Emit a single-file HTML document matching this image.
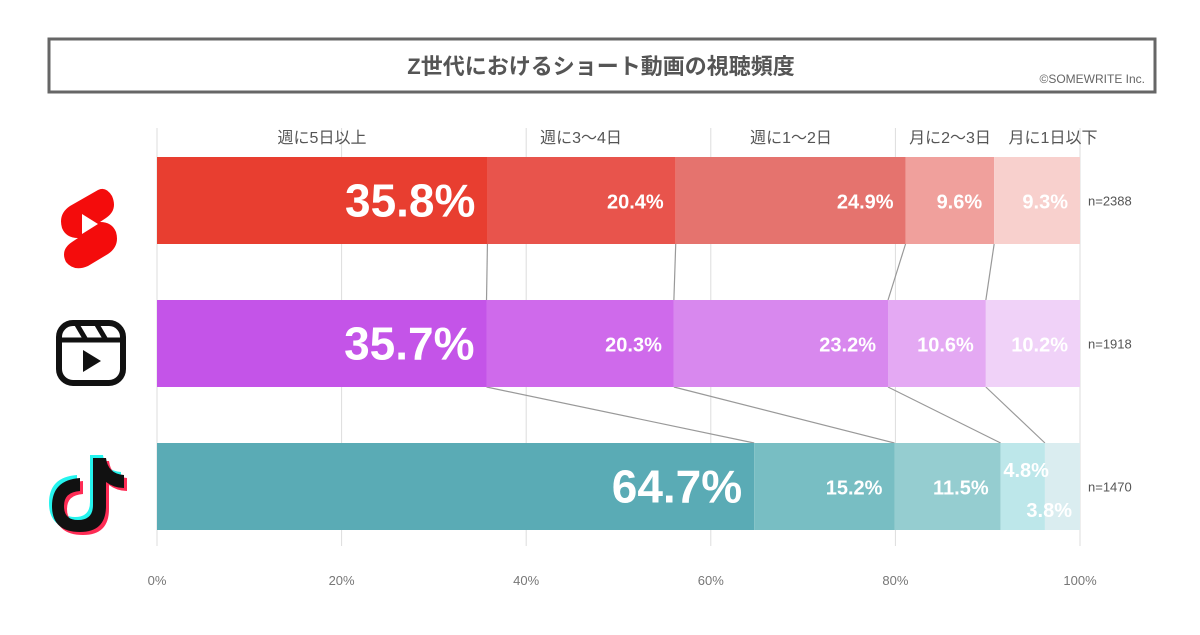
<!DOCTYPE html>
<html><head><meta charset="utf-8">
<style>
body{margin:0;background:#fff;width:1200px;height:630px;overflow:hidden;font-family:"Liberation Sans","Noto Sans CJK JP",sans-serif;}
svg text{font-family:"Liberation Sans","Noto Sans CJK JP",sans-serif;}
</style></head>
<body>
<svg id="chart" width="1200" height="630" xmlns="http://www.w3.org/2000/svg">
<rect x="49" y="39" width="1106" height="53" fill="#fff" stroke="#666" stroke-width="3"/>
<text x="601" y="74" text-anchor="middle" font-size="22" font-weight="bold" fill="#555">Z世代におけるショート動画の視聴頻度</text>
<text x="1145" y="83" text-anchor="end" font-size="12" fill="#666">©SOMEWRITE Inc.</text>
<g id="grid"></g><g id="conn"></g><g id="bars"></g><g id="labels"></g>
<!-- icons -->
<g>
<path d="M98,190 L70,206 Q58,214 62,228 Q66,238 78,238 L72,242 Q60,250 66,262 Q74,272 88,266 L108,254 Q120,246 116,232 Q112,222 100,222 L106,218 Q118,210 112,196 Q106,186 98,190 Z" fill="#f40c0c"/>
<path d="M82,214 L98,224 L82,234 Z" fill="#fff"/>
</g>
<g>
<rect x="59" y="323" width="64" height="60" rx="14" fill="none" stroke="#111" stroke-width="6"/>
<line x1="59" y1="340" x2="123" y2="340" stroke="#111" stroke-width="5"/>
<line x1="76" y1="323" x2="86" y2="340" stroke="#111" stroke-width="5"/>
<line x1="96" y1="323" x2="106" y2="340" stroke="#111" stroke-width="5"/>
<path d="M83,350 L101,361 L83,372 Z" fill="#111"/>
</g>
<g>
<path d="M93,458 L93,505 Q93,520 78,520 Q64,520 64,506 Q64,492 80,491 L80,478 Q52,480 52,506 Q52,532 80,532 Q106,532 106,506 L106,482 Q114,488 124,488 L124,475 Q108,474 106,458 Z" fill="#25f4ee" transform="translate(-3,-3)"/>
<path d="M93,458 L93,505 Q93,520 78,520 Q64,520 64,506 Q64,492 80,491 L80,478 Q52,480 52,506 Q52,532 80,532 Q106,532 106,506 L106,482 Q114,488 124,488 L124,475 Q108,474 106,458 Z" fill="#fe2c55" transform="translate(3,3)"/>
<path d="M93,458 L93,505 Q93,520 78,520 Q64,520 64,506 Q64,492 80,491 L80,478 Q52,480 52,506 Q52,532 80,532 Q106,532 106,506 L106,482 Q114,488 124,488 L124,475 Q108,474 106,458 Z" fill="#111"/>
</g>
</svg>
<script>
const categories=["週に5日以上","週に3〜4日","週に1〜2日","月に2〜3日","月に1日以下"];
const platforms=["YouTube Shorts","Instagram Reels","TikTok"];
const shortsValues=[35.8,20.4,24.9,9.6,9.3];
const reelsValues=[35.7,20.3,23.2,10.6,10.2];
const tiktokValues=[64.7,15.2,11.5,4.8,3.8];
const sampleSizes=["n=2388","n=1918","n=1470"];
const xTicks=[0,20,40,60,80,100];

const series=[shortsValues,reelsValues,tiktokValues];
const colors=[["#e83e30","#e8544c","#e5736e","#f0a09c","#f8d0cd"],["#c454e8","#cf6aeb","#d888ee","#e4a9f3","#f0d2f8"],["#5aabb5","#78bec3","#95cdd0","#bde7ea","#daedf0"]];
const NS="http://www.w3.org/2000/svg";
const X0=157,X1=1080;
const x=v=>X0+(X1-X0)*v/100;
const rowTop=[157,300,443],barH=87;
function mk(tag,attrs,parent,txt){const e=document.createElementNS(NS,tag);for(const k in attrs)e.setAttribute(k,attrs[k]);if(txt!==undefined)e.textContent=txt;document.getElementById(parent).appendChild(e);return e;}
xTicks.forEach(t=>{
 const l=mk('line',{x1:x(t),x2:x(t),y1:128,y2:546,stroke:'#ddd','stroke-width':1},'grid');
 
 
 const tx=mk('text',{x:x(t),y:585,'text-anchor':'middle','font-size':13,fill:'#777'},'grid',t+'%');
 
 
});
const cums=series.map(s=>{let c=0;return s.map(v=>(c+=v));});
for(let r=0;r<2;r++){for(let i=0;i<4;i++){
 const l=mk('line',{x1:x(cums[r][i]),y1:rowTop[r]+barH,x2:x(cums[r+1][i]),y2:rowTop[r+1],stroke:'#999','stroke-width':1.2},'conn');
 
 
}}
series.forEach((s,r)=>{
 let c=0;
 s.forEach((v,i)=>{
  const rc=mk('rect',{x:x(c),y:rowTop[r],width:x(c+v)-x(c),height:barH,fill:colors[r][i]},'bars');
  
  
  const end=x(c+v);
  let ty=rowTop[r]+barH/2+8,fs=20;
  if(i===0){fs=46;ty=rowTop[r]+barH/2+16;}
  let tx=end-12;
  if(r===2&&i===3){ty=rowTop[r]+34;tx=end+4;}
  if(r===2&&i===4){ty=rowTop[r]+74;tx=end-8;}
  const t=mk('text',{x:tx,y:ty,'text-anchor':'end','font-size':fs,'font-weight':'bold',fill:'#fff'},'labels',v.toFixed(1)+'%');
  
  
  c+=v;
 });
 const n=mk('text',{x:1088,y:rowTop[r]+barH/2+5,'font-size':13,fill:'#555'},'labels',sampleSizes[r]);
 
 
});
const hx=[322,581,791,950,1053];
categories.forEach((cat,i)=>{
 const t=mk('text',{x:hx[i],y:143,'text-anchor':'middle','font-size':16,fill:'#555'},'labels',cat);
 
 
});
</script>
</body></html>
